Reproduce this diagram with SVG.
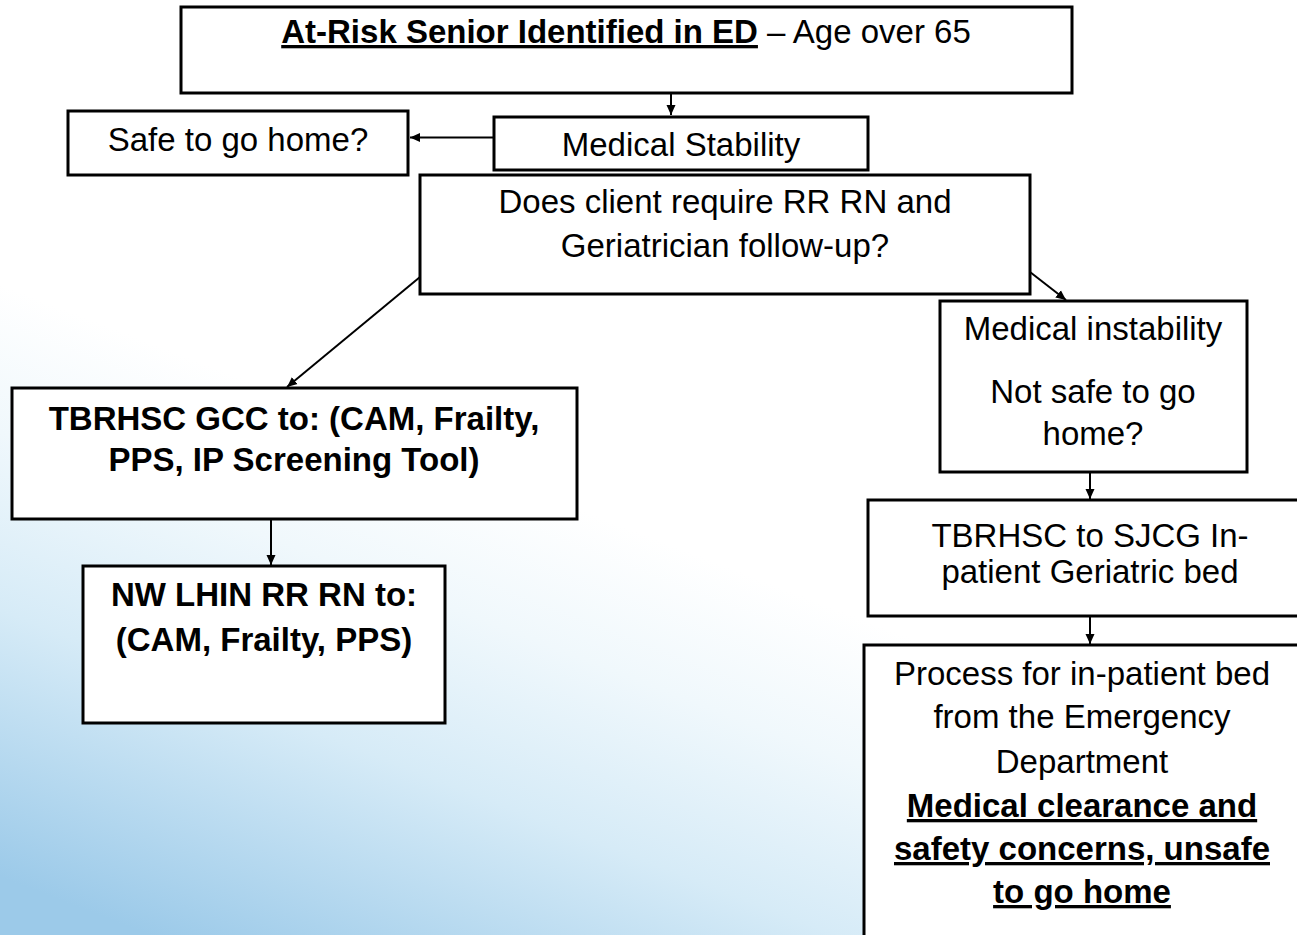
<svg xmlns="http://www.w3.org/2000/svg" width="1297" height="935" viewBox="0 0 1297 935">
  <style>
    .box { fill: #ffffff; stroke: #000000; stroke-width: 3; }
    .conn { stroke: #000000; stroke-width: 2; fill: none; }
    .t { font-family: "Liberation Sans", Arial, sans-serif; font-size: 33px; fill: #000000; text-anchor: middle; }
    .b { font-weight: bold; }
    .u { text-decoration: underline; }
  </style>
  <defs>
    <linearGradient id="bg" gradientUnits="userSpaceOnUse" x1="150" y1="935" x2="350" y2="420">
      <stop offset="0" stop-color="#9ccae9"/>
      <stop offset="0.45" stop-color="#d6ebf7"/>
      <stop offset="0.75" stop-color="#f0f8fc"/>
      <stop offset="1" stop-color="#ffffff"/>
    </linearGradient>
    <marker id="ah" markerWidth="10" markerHeight="10" refX="10" refY="5" orient="auto" markerUnits="userSpaceOnUse">
      <path d="M0,0.5 L10,5 L0,9.5 z" fill="#000000"/>
    </marker>
  </defs>
  <rect x="0" y="0" width="1297" height="935" fill="url(#bg)"/>

  <g id="connectors">
    <path class="conn" d="M671,93 L671,115" marker-end="url(#ah)"/>
    <path class="conn" d="M494,137.5 L410,137.5" marker-end="url(#ah)"/>
    <path class="conn" d="M420,277 L287,387" marker-end="url(#ah)"/>
    <path class="conn" d="M1030,272 L1066,300" marker-end="url(#ah)"/>
    <path class="conn" d="M271,519 L271,565" marker-end="url(#ah)"/>
    <path class="conn" d="M1090,472 L1090,499" marker-end="url(#ah)"/>
    <path class="conn" d="M1090,616 L1090,644" marker-end="url(#ah)"/>
  </g>

  <g id="n-at-risk">
    <rect class="box" x="181" y="7" width="891" height="86"/>
    <text class="t" x="626" y="43"><tspan class="b u">At-Risk Senior Identified in ED</tspan> – Age over 65</text>
  </g>

  <g id="n-medical-stability">
    <rect class="box" x="494" y="117" width="374" height="53"/>
    <text class="t" x="681" y="156">Medical Stability</text>
  </g>

  <g id="n-safe-home">
    <rect class="box" x="68" y="111" width="340" height="64"/>
    <text class="t" x="238" y="151">Safe to go home?</text>
  </g>

  <g id="n-does-client">
    <rect class="box" x="420" y="175" width="610" height="119"/>
    <text class="t" x="725" y="213">Does client require RR RN and</text>
    <text class="t" x="725" y="257">Geriatrician follow-up?</text>
  </g>

  <g id="n-gcc">
    <rect class="box" x="12" y="388" width="565" height="131"/>
    <text class="t b" x="294" y="430">TBRHSC GCC to: (CAM, Frailty,</text>
    <text class="t b" x="294" y="471">PPS, IP Screening Tool)</text>
  </g>

  <g id="n-nw-lhin">
    <rect class="box" x="83" y="566" width="362" height="157"/>
    <text class="t b" x="264" y="606">NW LHIN RR RN to:</text>
    <text class="t b" x="264" y="651">(CAM, Frailty, PPS)</text>
  </g>

  <g id="n-instability">
    <rect class="box" x="940" y="301" width="307" height="171"/>
    <text class="t" x="1093" y="340">Medical instability</text>
    <text class="t" x="1093" y="403">Not safe to go</text>
    <text class="t" x="1093" y="445">home?</text>
  </g>

  <g id="n-sjcg">
    <rect class="box" x="868" y="500" width="460" height="116"/>
    <text class="t" x="1090" y="547">TBRHSC to SJCG In-</text>
    <text class="t" x="1090" y="583">patient Geriatric bed</text>
  </g>

  <g id="n-process">
    <rect class="box" x="864" y="645" width="470" height="320"/>
    <text class="t" x="1082" y="685">Process for in-patient bed</text>
    <text class="t" x="1082" y="728">from the Emergency</text>
    <text class="t" x="1082" y="773">Department</text>
    <text class="t b u" x="1082" y="817">Medical clearance and</text>
    <text class="t b u" x="1082" y="860">safety concerns, unsafe</text>
    <text class="t b u" x="1082" y="903">to go home</text>
  </g>
</svg>
